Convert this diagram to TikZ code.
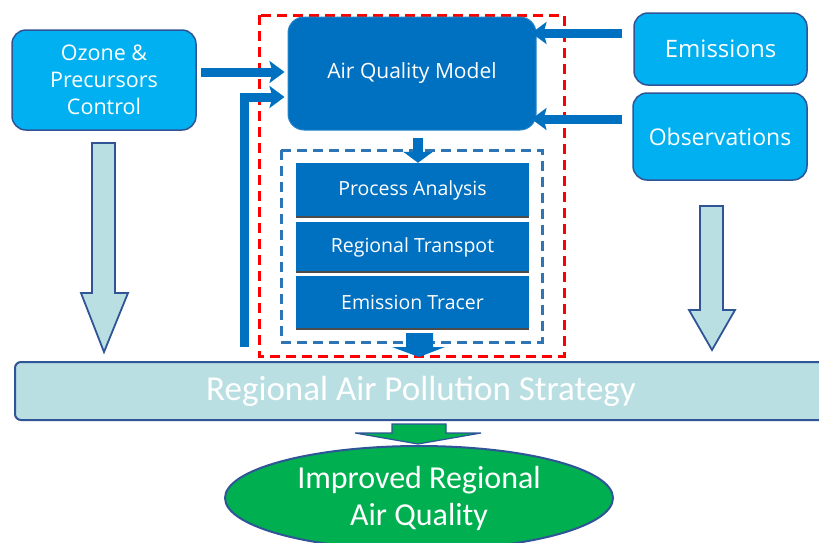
\documentclass[tikz,border=0pt]{standalone}
\usepackage{fontspec}
\setmainfont{Open Sans}
\newfontfamily\carl{Carlito}
\usetikzlibrary{arrows.meta,shapes.geometric}
\definecolor{lb}{HTML}{00B0F0}
\definecolor{db}{HTML}{0070C0}
\definecolor{bd}{HTML}{2F5597}
\definecolor{pale}{HTML}{B9DFE3}
\definecolor{gr}{HTML}{00B050}
\definecolor{rd}{HTML}{FF0000}
\definecolor{dsh}{HTML}{2E75B6}
\begin{document}
\begin{tikzpicture}[x=1pt,y=-1pt,
  lbox/.style={draw=bd, line width=1.5pt, fill=lb, rounded corners=14pt, text=white, align=center, inner sep=0pt},
  mbox/.style={draw=db!85!white, line width=1pt, fill=db, rounded corners=16pt, text=white, align=center, inner sep=0pt},
  ibox/.style={fill=db, text=white, inner sep=0pt, minimum width=233pt, font=\fontsize{19.5}{22}\selectfont},
  ishadow/.style={draw=black!70, line width=2pt},
  fat/.style={draw=db, line width=9pt, -{Stealth[length=15pt,width=22pt,inset=3pt]}},
  hollow/.style={draw=bd, line width=1.8pt, fill=pale, line join=miter},
  redbox/.style={draw=rd, line width=3pt, dash pattern=on 10pt off 6pt},
  bluebox/.style={draw=dsh, line width=3pt, dash pattern=on 10pt off 6pt}
]
\useasboundingbox (0,0) rectangle (819,542);
\clip (0,0) rectangle (819,542);

% dashed frames
\draw[redbox] (259,15) rectangle (564,356);
\draw[bluebox] (281,150) rectangle (542,342);

% nodes
\node[lbox, minimum width=184pt, minimum height=100pt, font=\fontsize{21.5}{27}\selectfont] (ozone) at (104,80) {Ozone \&\\Precursors\\Control};
\node[mbox, minimum width=248pt, minimum height=113pt, font=\fontsize{21}{24}\selectfont] (aqm) at (412,73.5) {Air Quality Model};
\node[lbox, minimum width=173pt, minimum height=72pt, font=\fontsize{24}{28}\selectfont] (emis) at (720.5,49) {Emissions};
\node[lbox, minimum width=174pt, minimum height=87pt, font=\fontsize{23}{27}\selectfont] (obs) at (720,136.5) {Observations};

\node[ibox, minimum height=54pt] (pa) at (412.5,190) {Process Analysis};
\node[ibox, minimum height=50pt] (rt) at (412.5,247) {Regional Transpot};
\node[ibox, minimum height=53pt] (et) at (412.5,302.5) {Emission Tracer};
\draw[ishadow] (pa.south west) -- (pa.south east);
\draw[ishadow] (rt.south west) -- (rt.south east);
\draw[ishadow] (et.south west) -- (et.south east);

\node[draw=bd, line width=2pt, fill=pale, rounded corners=6pt, minimum width=812pt, minimum height=58pt, inner sep=0pt, text=white, font=\carl\fontsize{35}{38}\selectfont] (strat) at (421,391) {Regional Air Pollution Strategy};

\node[ellipse, draw=bd, line width=2pt, fill=gr, minimum width=388pt, minimum height=104pt, inner sep=0pt, text=white, align=center, font=\carl\fontsize{32}{37}\selectfont] (iaq) at (419,498) {Improved Regional\\Air Quality};

% thick arrows into the model
\draw[fat, shorten <=4pt, shorten >=3pt] ([yshift=8pt]ozone.east) -- ([yshift=8pt]ozone.east -| aqm.west);
\coordinate (lbot) at (244,347);
\draw[fat, line join=miter, shorten >=3pt] (lbot) |- ([yshift=-23.5pt]aqm.west);
\draw[fat, shorten <=11pt, shorten >=-5pt] ([yshift=16pt]emis.west) -- ([yshift=16pt]emis.west -| aqm.east);
\draw[fat, shorten <=10pt, shorten >=-5pt] ([yshift=17.5pt]obs.west) -- ([yshift=17.5pt]obs.west -| aqm.east);

% model -> analysis
\draw[draw=db, line width=10pt, -{Triangle[length=11pt,width=29pt]}, shorten <=7pt] ([xshift=6pt]aqm.south) -- ([xshift=6pt]aqm.south |- pa.north);

% analysis -> strategy
\fill[db] (406,333) -- (433,333) -- (433,347) -- (445,347) -- (419,357) -- (392,347) -- (406,347) -- cycle;

% hollow arrows
\draw[hollow] (92,143) -- (115,143) -- (115,293) -- (128,293) -- (104,352) -- (81,293) -- (92,293) -- cycle;
\draw[hollow] (700,206) -- (723,206) -- (723,310) -- (735,310) -- (712,350) -- (689,310) -- (700,310) -- cycle;

% strategy -> improved air quality
\draw[draw=bd, line width=1.2pt, fill=gr] (392,424) -- (446,424) -- (446,433) -- (481,433) -- (418,444) -- (355,433) -- (392,433) -- cycle;
\end{tikzpicture}
\end{document}
